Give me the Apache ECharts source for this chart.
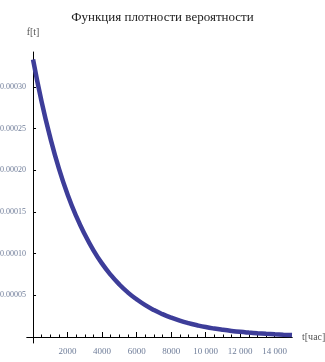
<!DOCTYPE html>
<html>
<head>
<meta charset="utf-8">
<script src="https://cdn.jsdelivr.net/npm/echarts@6/dist/echarts.min.js"></script>
<style>html,body{margin:0;padding:0;background:#fff}#c{width:325px;height:362px}</style>
</head>
<body>
<div id="c"></div>
<script>
var titleText = 'Функция плотности вероятности';
var yName = 'f[t]';
var xName = 't[час]';
var tValues = [0, 500, 1000, 1500, 2000, 2500, 3000, 3500, 4000, 4500, 5000, 5500, 6000, 6500, 7000, 7500, 8000, 8500, 9000, 9500, 10000, 10500, 11000, 11500, 12000, 12500, 13000, 13500, 14000, 14500, 15000];
var fValues = [0.000333, 0.000282, 0.000239, 0.000202, 0.000171, 0.000145, 0.000123, 0.000104, 0.0000880, 0.0000745, 0.0000630, 0.0000533, 0.0000452, 0.0000382, 0.0000323, 0.0000274, 0.0000232, 0.0000196, 0.0000166, 0.0000141, 0.0000119, 0.0000101, 0.0000086, 0.0000073, 0.0000062, 0.0000053, 0.0000045, 0.0000038, 0.0000032, 0.0000027, 0.0000023];
var xMajorTicks = [2000, 4000, 6000, 8000, 10000, 12000, 14000];
var xMinorTicks = [500, 1000, 1500, 2500, 3000, 3500, 4500, 5000, 5500, 6500, 7000, 7500, 8500, 9000, 9500, 10500, 11000, 11500, 12500, 13000, 13500, 14500];
var yMajorTicks = [0.00005, 0.00010, 0.00015, 0.00020, 0.00025, 0.00030];

var data = tValues.map(function (t, i) { return [t, fValues[i]]; });
var labelColor = '#6f7d99';
var labelFont = 'Liberation Serif';
var xMin = -350, xMax = 15000, yMin = -0.0000072, yMax = 0.000342;
function fmtX(v) {
  var s = String(Math.round(v));
  if (s.length > 4) s = s.slice(0, s.length - 3) + ' ' + s.slice(s.length - 3);
  return s;
}
var gridBox = { left: 27, right: 33, top: 52, bottom: 19, containLabel: false, outerBoundsMode: 'none' };
var chart = echarts.init(document.getElementById('c'));
chart.setOption({
  animation: false,
  title: {
    text: titleText, left: 'center', top: 6,
    textStyle: { fontFamily: labelFont, fontSize: 13, fontWeight: 'normal', color: '#222' }
  },
  grid: [gridBox, Object.assign({}, gridBox)],
  xAxis: [{
    gridIndex: 0, type: 'value', min: xMin, max: xMax,
    name: xName, nameLocation: 'end', nameGap: 10,
    nameTextStyle: { fontFamily: labelFont, fontSize: 10, color: '#555', verticalAlign: 'middle' },
    axisLine: { show: true, onZero: true, lineStyle: { color: '#000', width: 1 } },
    axisTick: { show: true, inside: true, length: 5, customValues: xMajorTicks, lineStyle: { color: '#000' } },
    axisLabel: { show: true, customValues: xMajorTicks, formatter: fmtX, margin: 4, fontFamily: labelFont, fontSize: 9, color: labelColor },
    splitLine: { show: false }
  }, {
    gridIndex: 1, type: 'value', min: xMin, max: xMax,
    axisLine: { show: true, onZero: true, lineStyle: { color: '#000', width: 1 } },
    axisTick: { show: true, inside: true, length: 2.5, customValues: xMinorTicks, lineStyle: { color: '#000' } },
    axisLabel: { show: false },
    splitLine: { show: false }
  }],
  yAxis: [{
    gridIndex: 0, type: 'value', min: yMin, max: yMax,
    name: yName, nameLocation: 'end', nameGap: 15,
    nameTextStyle: { fontFamily: labelFont, fontSize: 10, color: '#555', align: 'center' },
    axisLine: { show: true, onZero: true, lineStyle: { color: '#000', width: 1 } },
    axisTick: { show: true, inside: true, length: 3, customValues: yMajorTicks, lineStyle: { color: '#000' } },
    axisLabel: { show: true, customValues: yMajorTicks, formatter: function (v) { return v.toFixed(5); }, margin: 1, fontFamily: labelFont, fontSize: 8, color: labelColor },
    splitLine: { show: false }
  }, {
    gridIndex: 1, type: 'value', min: yMin, max: yMax, show: false
  }],
  series: [{
    type: 'line', xAxisIndex: 0, yAxisIndex: 0, data: data, smooth: true, showSymbol: false,
    lineStyle: { color: '#3d3d99', width: 4.5 }
  }]
});
</script>
</body>
</html>
